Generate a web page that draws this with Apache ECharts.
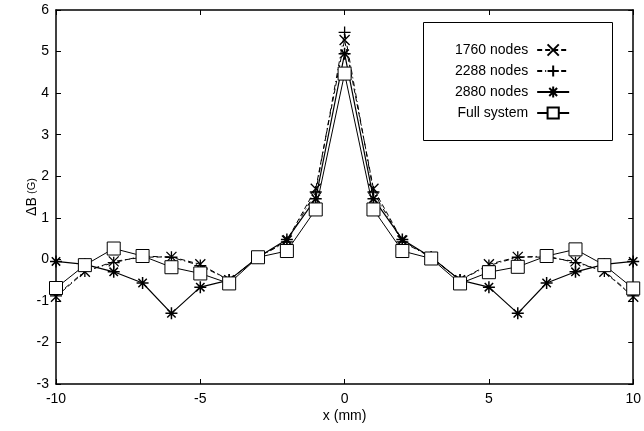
<!DOCTYPE html>
<html>
<head>
<meta charset="utf-8">
<script src="https://cdn.jsdelivr.net/npm/echarts@6/dist/echarts.min.js"></script>
<style>html,body{margin:0;padding:0;background:#fff}#c{width:644px;height:431px}</style>
</head>
<body>
<div id="c"></div>
<script>
var xValues = [-10,-9,-8,-7,-6,-5,-4,-3,-2,-1,0,1,2,3,4,5,6,7,8,9,10];
var nodes1760 = [-0.9,-0.3,-0.05,0.05,0.06,-0.12,-0.5,0.05,0.45,1.7,5.28,1.7,0.45,0.05,-0.5,-0.12,0.06,0.05,-0.05,-0.3,-0.9];
var nodes2288 = [-0.88,-0.28,-0.08,0.08,0.05,-0.15,-0.5,0.05,0.42,1.62,5.46,1.62,0.42,0.05,-0.5,-0.15,0.05,0.08,-0.08,-0.28,-0.88];
var nodes2880 = [-0.05,-0.12,-0.3,-0.57,-1.3,-0.67,-0.5,0.05,0.48,1.46,4.95,1.46,0.48,0.05,-0.5,-0.67,-1.3,-0.57,-0.3,-0.12,-0.05];
var fullSystem = [-0.69,-0.14,0.26,0.08,-0.19,-0.34,-0.58,0.05,0.2,1.2,4.47,1.2,0.2,0.02,-0.58,-0.31,-0.18,0.08,0.24,-0.14,-0.7];
var seriesNames = ['1760 nodes','2288 nodes','2880 nodes','Full system'];

function pairs(arr){ return xValues.map(function(x,i){ return [x, arr[i]]; }); }

var FONT = 'Liberation Sans, Arial, sans-serif';
var symX = 'path://M0,0L10,10M10,0L0,10';
var symPlus = 'path://M5,0L5,10M0,5L10,5';
var symStar = 'path://M5,0L5,10M0,5L10,5M1.5,1.5L8.5,8.5M8.5,1.5L1.5,8.5';

var chart = echarts.init(document.getElementById('c'), null, {renderer:'canvas'});
var axisCommon = {
  axisLine:{show:true, onZero:false, lineStyle:{color:'#000', width:1.5}},
  splitLine:{show:false}
};
chart.setOption({
  animation:false,
  backgroundColor:'#fff',
  grid:{left:56, right:9, top:10, bottom:47, containLabel:false},
  xAxis:[
    Object.assign({type:'value', min:-10, max:10, interval:5, position:'bottom',
      axisTick:{show:true, inside:true, length:5, lineStyle:{color:'#000'}},
      axisLabel:{color:'#000', fontSize:14, fontFamily:FONT, margin:8},
      name:'x (mm)', nameLocation:'middle', nameGap:25, nameMoveOverlap:false,
      nameTextStyle:{color:'#000', fontSize:14, fontFamily:FONT}
    }, axisCommon),
    Object.assign({type:'value', min:-10, max:10, interval:5, position:'top',
      axisTick:{show:true, inside:true, length:5, lineStyle:{color:'#000'}},
      axisLabel:{show:false}}, axisCommon)
  ],
  yAxis:[
    Object.assign({type:'value', min:-3, max:6, interval:1, position:'left',
      axisTick:{show:true, inside:true, length:5, lineStyle:{color:'#000'}},
      axisLabel:{color:'#000', fontSize:14, fontFamily:FONT, margin:7},
      name:'{a|ΔB} {b|(G)}', nameLocation:'middle', nameGap:17, nameRotate:90, nameMoveOverlap:false,
      nameTextStyle:{color:'#000', fontFamily:FONT,
        rich:{a:{fontSize:14, fontFamily:FONT, color:'#000'}, b:{fontSize:11, fontFamily:FONT, color:'#000'}}}
    }, axisCommon),
    Object.assign({type:'value', min:-3, max:6, interval:1, position:'right',
      axisTick:{show:true, inside:true, length:5, lineStyle:{color:'#000'}},
      axisLabel:{show:false}}, axisCommon)
  ],
  graphic:[{type:'rect', shape:{x:423.5, y:22.5, width:189, height:118},
    style:{fill:'#fff', stroke:'#000', lineWidth:1}, z:50}],
  legend:{
    orient:'vertical', left:450, top:38, align:'right', z:60,
    itemWidth:32, itemHeight:14, itemGap:7,
    textStyle:{color:'#000', fontSize:14, fontFamily:FONT, padding:[0,4,0,0]},
    data:seriesNames
  },
  series:[
    {name:seriesNames[0], type:'line', data:pairs(nodes1760), symbol:symX, symbolSize:10,
      lineStyle:{color:'#000', width:1, type:[5,3]},
      itemStyle:{color:'#000', borderColor:'#000', borderWidth:1.3}, z:2},
    {name:seriesNames[1], type:'line', data:pairs(nodes2288), symbol:symPlus, symbolSize:12,
      lineStyle:{color:'#000', width:1, type:[5,3,1,3]},
      itemStyle:{color:'#000', borderColor:'#000', borderWidth:1.3}, z:3},
    {name:seriesNames[2], type:'line', data:pairs(nodes2880), symbol:symStar, symbolSize:12,
      lineStyle:{color:'#000', width:1.2, type:'solid'},
      itemStyle:{color:'#000', borderColor:'#000', borderWidth:1.5}, z:4},
    {name:seriesNames[3], type:'line', data:pairs(fullSystem), symbol:'rect', symbolSize:13,
      lineStyle:{color:'#000', width:1, type:'solid'},
      itemStyle:{color:'#fff', borderColor:'#000', borderWidth:1}, z:5}
  ]
});
</script>
</body>
</html>
